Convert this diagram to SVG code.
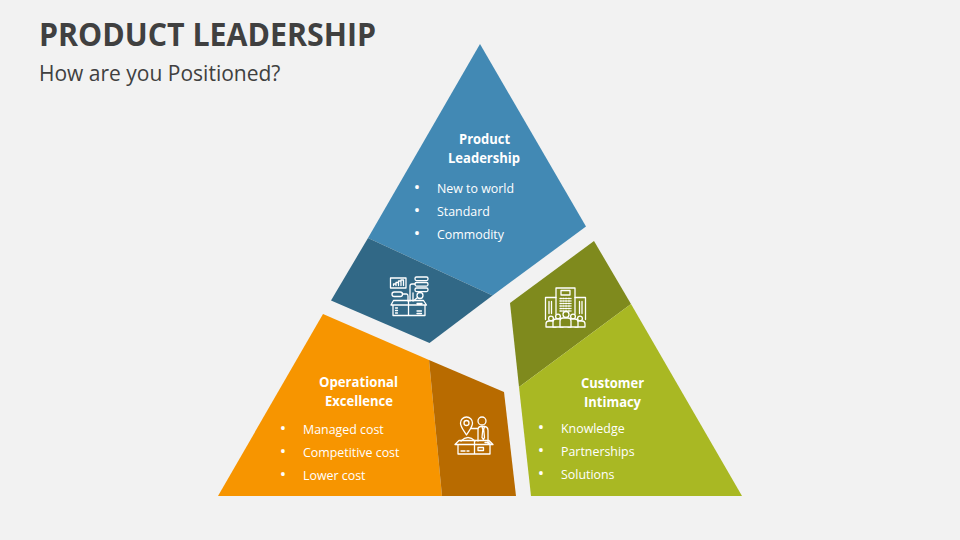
<svg xmlns="http://www.w3.org/2000/svg" width="960" height="540" viewBox="0 0 960 540">
<style>
text{font-family:"Open Sans","Noto Sans",sans-serif}
.t{font-size:33px;font-weight:700;fill:#404040}
.s{font-size:21px;fill:#404040}
.h{font-size:14.500px;font-weight:700;fill:#fff}
.b{font-size:12.400px;fill:#fff}
.d{font-size:17px;fill:#fff;text-anchor:middle}
.i{fill:none;stroke:#fff;stroke-width:1.300;stroke-linejoin:round;stroke-linecap:round}
</style>
<rect width="960" height="540" fill="#f2f2f2"/>
<text class="t" x="39" y="46" textLength="337" lengthAdjust="spacingAndGlyphs">PRODUCT LEADERSHIP</text>
<text class="s" x="39" y="81">How are you Positioned?</text>
<g id="node-product">
<path d="M480 44L586 226.500L492.500 295.500L368 238Z" fill="#4289b4"/>
<path d="M368 238L492.500 295.500L429.500 343L331 300.500Z" fill="#316886"/>
<g class="i">
<rect x="390.500" y="278" width="15.500" height="10"/><path d="M393.500 285.500v-1.500h2.500v1.500M396 285.500v-3h2.500v3M398.500 285.500v-4.500h2.500v4.500M401 285.500v-5.500h2.500v5.500"/>
<rect x="415" y="277" width="13" height="3.600" rx="1.500"/><rect x="415" y="282.500" width="13" height="3.600" rx="1.500"/><rect x="415" y="288" width="13" height="3.600" rx="1.500"/>
<rect x="392" y="292" width="10.500" height="4.500" rx="2.200"/><path d="M402.500 294h4q1.500 0 1.500 2v5M410 301v-15q0-2 2-2h3M413 301v-8"/>
<circle cx="420" cy="295.500" r="3"/><path d="M414 300.500l3.500-3"/>
<path d="M393 305v10.500h32v-10.500M408.500 305v10.500M391 305l2.500-4.500h15v4.500zM408.500 305v-4.500h15l3 4.500zM395.500 308h2M395.500 310.500h2M395.500 313h2M417 303.500h5M417 311h4.500M417 313.500h4.500"/>
</g>
</g>
<g id="node-operational">
<path d="M323 314L429 360L442 496H218Z" fill="#f79500"/>
<path d="M429 360L504 392L516 496H442Z" fill="#b86b00"/>
<g class="i">
<path d="M466.500 435c-3-5-6-8-6-12a6 6 0 0 1 12 0c0 4-3 7-6 12z"/><circle cx="466.500" cy="423" r="2.500"/>
<circle cx="482" cy="421" r="4"/><path d="M478 441v-11q0-3.500 3-3.500h3q4 0 4 4v13h2M482 426.500l.8 3-.8 8 1.500 2 1-2-.8-8 .8-3M471 428.500h7"/>
<path d="M461 441q7-7 14 0"/>
<path d="M458 444.500v9.500h32v-9.500M474.500 444.500v9.500M455 444.500l4-4h15.500v4zM474.500 444.500v-4h14.500l4 4zM461 451h4M467 451h2M478 447.500h5.500v3h-5.500zM485 442.500h4"/>
</g>
</g>
<g id="node-customer">
<path d="M594 241L631 304L519 387L510 303Z" fill="#7f8a1d"/>
<path d="M631 304L742 496H531L519 387Z" fill="#a9b823"/>
<g class="i">
<path d="M556 314v-26h19v26"/><rect x="561" y="290.500" width="9" height="4.500"/>
<path d="M556 297.500h-10.500v22M575 297.500h10.500v22M549 301.500v12M551.500 301.500v12M579.500 301.500v12M582 301.500v12"/>
<path d="M560 298.500h11M560 301h11M560 303.500h11M560 306h11M560 308.500h11M560 311h11" stroke-dasharray="1.500 1.200"/>
<g fill="#7f8a1d">
<circle cx="551" cy="318.500" r="2.400"/><circle cx="558" cy="316.500" r="2.400"/><circle cx="573" cy="316.500" r="2.400"/><circle cx="580" cy="318.500" r="2.400"/>
<path d="M546 327v-3q0-3 3-3h4q3 0 3 3v3zM575 327v-3q0-3 3-3h4q3 0 3 3v3z"/>
<path d="M553 327v-5q0-3 3-3h4q3 0 3 3v5zM568 327v-5q0-3 3-3h4q3 0 3 3v5z"/>
<circle cx="566" cy="314.500" r="3"/>
<path d="M560 327v-6q0-3 3-3h5q3 0 3 3v6z"/>
</g>
</g>
</g>
<g id="labels">
<text class="h" x="459" y="144" textLength="51" lengthAdjust="spacingAndGlyphs">Product</text>
<text class="h" x="448" y="163" textLength="72" lengthAdjust="spacingAndGlyphs">Leadership</text>
<text class="d" x="417" y="193">•</text><text class="b" x="437" y="193">New to world</text>
<text class="d" x="417" y="216">•</text><text class="b" x="437" y="216">Standard</text>
<text class="d" x="417" y="239">•</text><text class="b" x="437" y="239">Commodity</text>
<text class="h" x="319" y="387" textLength="79" lengthAdjust="spacingAndGlyphs">Operational</text>
<text class="h" x="325" y="406" textLength="68" lengthAdjust="spacingAndGlyphs">Excellence</text>
<text class="d" x="283" y="434">•</text><text class="b" x="303" y="434">Managed cost</text>
<text class="d" x="283" y="457">•</text><text class="b" x="303" y="457">Competitive cost</text>
<text class="d" x="283" y="480">•</text><text class="b" x="303" y="480">Lower cost</text>
<text class="h" x="581" y="388" textLength="63" lengthAdjust="spacingAndGlyphs">Customer</text>
<text class="h" x="584" y="407" textLength="57" lengthAdjust="spacingAndGlyphs">Intimacy</text>
<text class="d" x="541" y="433">•</text><text class="b" x="561" y="433">Knowledge</text>
<text class="d" x="541" y="456">•</text><text class="b" x="561" y="456">Partnerships</text>
<text class="d" x="541" y="479">•</text><text class="b" x="561" y="479">Solutions</text>
</g>
</svg>
